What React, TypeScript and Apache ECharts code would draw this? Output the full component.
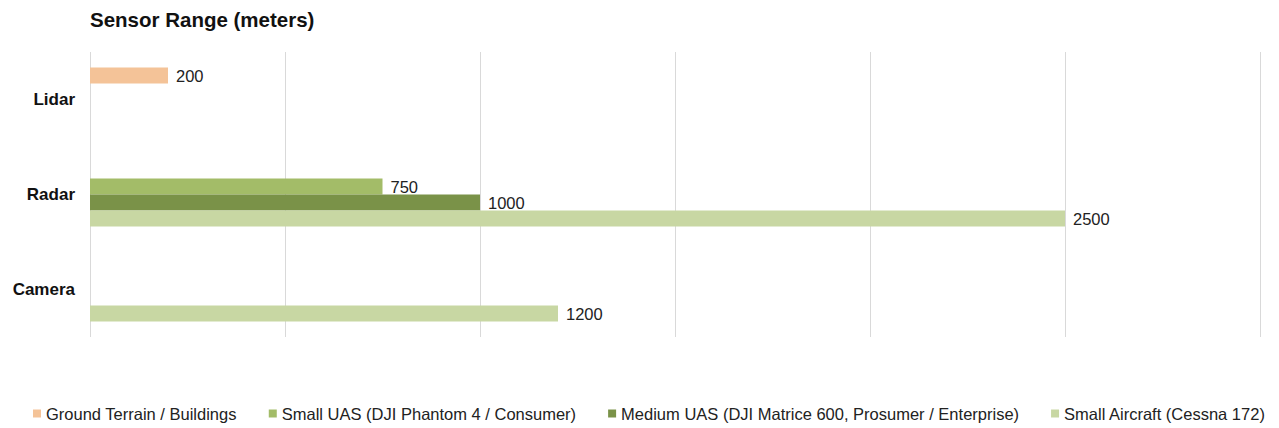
import React, { useEffect, useRef } from "react";
import * as echarts from "echarts";

const categories = ["Lidar", "Radar", "Camera"];
const seriesNames = [
  "Ground Terrain / Buildings",
  "Small UAS (DJI Phantom 4 / Consumer)",
  "Medium UAS (DJI Matrice 600, Prosumer / Enterprise)",
  "Small Aircraft (Cessna 172)",
];
const groundTerrain = [200, null, null];
const smallUAS = [null, 750, null];
const mediumUAS = [null, 1000, null];
const smallAircraft = [null, 2500, 1200];
const colors = ["#F4C398", "#A3BC68", "#7A9248", "#C8D7A3"];

const FONT = "Helvetica, Arial, 'Liberation Sans', sans-serif";

export default function App() {
  const ref = useRef<HTMLDivElement>(null);
  useEffect(() => {
    if (!ref.current) return;
    const chart = echarts.init(ref.current, undefined, { renderer: "svg" });
    const values = [groundTerrain, smallUAS, mediumUAS, smallAircraft];
    chart.setOption({
      animation: false,
      backgroundColor: "#ffffff",
      textStyle: { fontFamily: FONT },
      title: {
        text: "Sensor Range (meters)",
        left: 85,
        top: 4,
        textStyle: { fontSize: 20.5, fontWeight: "bold", color: "#111", fontFamily: FONT },
      },
      legend: {
        top: 400,
        left: 28,
        icon: "rect",
        itemWidth: 8,
        itemHeight: 8,
        itemGap: 32,
        textStyle: { fontSize: 16.5, color: "#222", fontFamily: FONT },
        data: seriesNames,
      },
      grid: { left: 90, right: 19, top: 52, bottom: 91, containLabel: false },
      xAxis: {
        type: "value",
        min: 0,
        max: 3000,
        interval: 500,
        axisLabel: { show: false },
        axisLine: { show: false },
        axisTick: { show: false },
        splitLine: { show: true, lineStyle: { color: "#d9d9d9", width: 1 } },
      },
      yAxis: {
        type: "category",
        data: categories,
        inverse: true,
        axisLine: { show: false },
        axisTick: { show: false },
        axisLabel: {
          margin: 15,
          fontSize: 17,
          fontWeight: "bold",
          color: "#111",
          fontFamily: FONT,
        },
      },
      series: seriesNames.map((name, i) => ({
        name,
        type: "bar",
        data: values[i],
        barWidth: 16,
        barGap: "0%",
        itemStyle: { color: colors[i] },
        label: {
          show: true,
          position: "right",
          distance: 8,
          fontSize: 16.5,
          color: "#222",
          fontFamily: FONT,
        },
      })),
    });
    return () => chart.dispose();
  }, []);
  return (
    <div
      ref={ref}
      style={{ position: "fixed", left: 0, top: 0, width: 1279, height: 428 }}
    />
  );
}
